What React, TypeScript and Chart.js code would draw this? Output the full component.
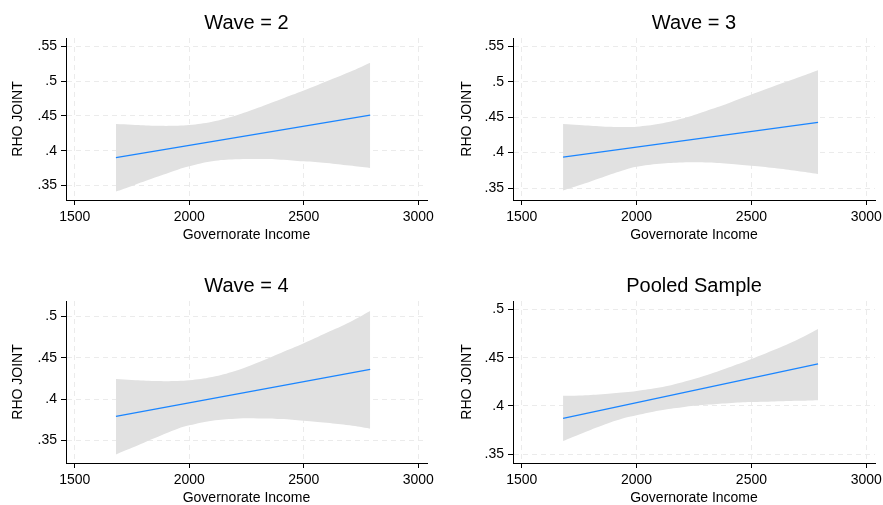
import React, { useEffect, useRef } from "react";
import { Chart, registerables } from "chart.js";

Chart.register(...registerables);

// Governorate income values at which the confidence band is traced
const incomeGrid = [1680, 1750, 1850, 1950, 2000, 2100, 2200, 2300, 2400, 2500, 2600, 2700, 2790];
// End points of the fitted line
const fitIncome = [1680, 2790];

const xTicks = [1500, 2000, 2500, 3000];

// Wave = 2
const wave2Upper = [0.4382, 0.4372, 0.4358, 0.4358, 0.4367, 0.4415, 0.4501, 0.4616, 0.474, 0.4864, 0.4998, 0.5131, 0.5265];
const wave2Lower = [0.3412, 0.3493, 0.3613, 0.3727, 0.3775, 0.3847, 0.3875, 0.388, 0.3871, 0.3847, 0.3823, 0.3785, 0.3751];
const wave2Fit = [0.3899, 0.451];

// Wave = 3
const wave3Upper = [0.4402, 0.4388, 0.4369, 0.436, 0.4365, 0.4407, 0.4481, 0.4584, 0.4696, 0.4818, 0.4939, 0.5056, 0.5163];
const wave3Lower = [0.3464, 0.3538, 0.365, 0.3758, 0.38, 0.3842, 0.386, 0.386, 0.3842, 0.3814, 0.3781, 0.3739, 0.3697];
const wave3Fit = [0.3935, 0.4425];

// Wave = 4
const wave4Upper = [0.4244, 0.4232, 0.422, 0.422, 0.4228, 0.4268, 0.434, 0.4444, 0.456, 0.4677, 0.4805, 0.4933, 0.5069];
const wave4Lower = [0.3331, 0.3411, 0.3531, 0.3643, 0.3683, 0.3739, 0.3763, 0.3767, 0.3759, 0.3739, 0.3715, 0.3683, 0.3643];
const wave4Fit = [0.3791, 0.436];

// Pooled sample
const pooledUpper = [0.4105, 0.4108, 0.4122, 0.4143, 0.4156, 0.4191, 0.4246, 0.4314, 0.4397, 0.4486, 0.4582, 0.4686, 0.4796];
const pooledLower = [0.3637, 0.3706, 0.3799, 0.3878, 0.3905, 0.3954, 0.3988, 0.4012, 0.4029, 0.404, 0.4046, 0.4053, 0.406];
const pooledFit = [0.3871, 0.4435];

const yTicksWide = [0.35, 0.4, 0.45, 0.5, 0.55];
const yTicksNarrow = [0.35, 0.4, 0.45, 0.5];

const FONT = "'Liberation Sans', Arial, Helvetica, sans-serif";
const BAND = "#e1e1e1";
const LINE = "#1a85ff";
const GRID = "#ebebeb";
const INK = "#000000";

type PanelSpec = {
  title: string;
  upper: number[];
  lower: number[];
  fit: number[];
  yMin: number;
  yMax: number;
  yTicks: number[];
  left: number;
  top: number;
  plotRight: number;
  yTitlePad: number;
};

const panels: PanelSpec[] = [
  { title: "Wave = 2", upper: wave2Upper, lower: wave2Lower, fit: wave2Fit, yMin: 0.3291, yMax: 0.5619, yTicks: yTicksWide, left: 0, top: 0, plotRight: 427, yTitlePad: 10 },
  { title: "Wave = 3", upper: wave3Upper, lower: wave3Lower, fit: wave3Fit, yMin: 0.3331, yMax: 0.5617, yTicks: yTicksWide, left: 447, top: 0, plotRight: 428, yTitlePad: 11.5 },
  { title: "Wave = 4", upper: wave4Upper, lower: wave4Lower, fit: wave4Fit, yMin: 0.3227, yMax: 0.5189, yTicks: yTicksNarrow, left: 0, top: 263, plotRight: 427, yTitlePad: 10 },
  { title: "Pooled Sample", upper: pooledUpper, lower: pooledLower, fit: pooledFit, yMin: 0.341, yMax: 0.5086, yTicks: yTicksNarrow, left: 447, top: 263, plotRight: 428, yTitlePad: 11.5 },
];

const CANVAS_W = 460;
const CANVAS_H = 263;
const PLOT_LEFT = 66;
const PLOT_BOTTOM = 200;

const decimalLabel = (v: number) => String(Number(v.toFixed(3))).replace(/^0\./, ".");

function RhoPanel({ spec }: { spec: PanelSpec }) {
  const ref = useRef<HTMLCanvasElement>(null);

  useEffect(() => {
    const canvas = ref.current;
    if (!canvas) return;
    const tickFont = { family: FONT, size: 14 };
    const chart = new Chart(canvas, {
      type: "line",
      data: {
        datasets: [
          {
            label: "Fitted values",
            data: fitIncome.map((x, i) => ({ x, y: spec.fit[i] })),
            borderColor: LINE,
            borderWidth: 1.3,
            pointRadius: 0,
            fill: false,
            order: 0,
          },
          {
            label: "95% CI upper",
            data: incomeGrid.map((x, i) => ({ x, y: spec.upper[i] })),
            borderColor: "rgba(0,0,0,0)",
            borderWidth: 0,
            backgroundColor: BAND,
            pointRadius: 0,
            fill: "+1",
            tension: 0.4,
            order: 1,
          },
          {
            label: "95% CI lower",
            data: incomeGrid.map((x, i) => ({ x, y: spec.lower[i] })),
            borderColor: "rgba(0,0,0,0)",
            borderWidth: 0,
            pointRadius: 0,
            fill: false,
            tension: 0.4,
            order: 2,
          },
        ],
      },
      options: {
        responsive: false,
        animation: false,
        devicePixelRatio: 1,
        layout: { padding: { left: 0, right: CANVAS_W - spec.plotRight, top: 0, bottom: 0 } },
        plugins: {
          legend: { display: false },
          tooltip: { enabled: false },
          title: {
            display: true,
            text: spec.title,
            fullSize: false,
            color: INK,
            font: { family: FONT, size: 20, weight: "normal" },
            padding: { top: 11, bottom: 3 },
          },
        },
        scales: {
          x: {
            type: "linear",
            min: 1462,
            max: 3038,
            afterBuildTicks: (scale: any) => {
              scale.ticks = xTicks.map((value) => ({ value }));
            },
            afterFit: (scale: any) => {
              scale.height = CANVAS_H - PLOT_BOTTOM;
            },
            ticks: {
              callback: (v: any) => String(v),
              color: INK,
              font: tickFont,
              padding: 4,
              maxRotation: 0,
              autoSkip: false,
            },
            grid: { color: GRID, lineWidth: 1, tickColor: INK, tickLength: 5, tickWidth: 1 },
            border: { display: true, color: INK, width: 1, dash: [5, 4] },
            title: {
              display: true,
              text: "Governorate Income",
              color: INK,
              font: tickFont,
              padding: { top: 0, bottom: 19 },
            },
          },
          y: {
            type: "linear",
            min: spec.yMin,
            max: spec.yMax,
            afterBuildTicks: (scale: any) => {
              scale.ticks = spec.yTicks.map((value) => ({ value }));
            },
            afterFit: (scale: any) => {
              scale.width = PLOT_LEFT;
            },
            ticks: {
              callback: (v: any) => decimalLabel(Number(v)),
              color: INK,
              font: tickFont,
              padding: 4,
              autoSkip: false,
            },
            grid: { color: GRID, lineWidth: 1, tickColor: INK, tickLength: 5, tickWidth: 1 },
            border: { display: true, color: INK, width: 1, dash: [5, 4] },
            title: {
              display: true,
              text: "RHO JOINT",
              color: INK,
              font: tickFont,
              padding: { top: spec.yTitlePad, bottom: 0 },
            },
          },
        },
      } as any,
    });
    return () => chart.destroy();
  }, [spec]);

  return (
    <canvas
      ref={ref}
      width={CANVAS_W}
      height={CANVAS_H}
      style={{ position: "absolute", left: spec.left, top: spec.top, width: CANVAS_W, height: CANVAS_H }}
    />
  );
}

export default function App() {
  return (
    <div
      style={{
        position: "fixed",
        left: 0,
        top: 0,
        width: 883,
        height: 505,
        overflow: "hidden",
        background: "#ffffff",
      }}
    >
      {panels.map((p) => (
        <RhoPanel key={p.title} spec={p} />
      ))}
    </div>
  );
}
